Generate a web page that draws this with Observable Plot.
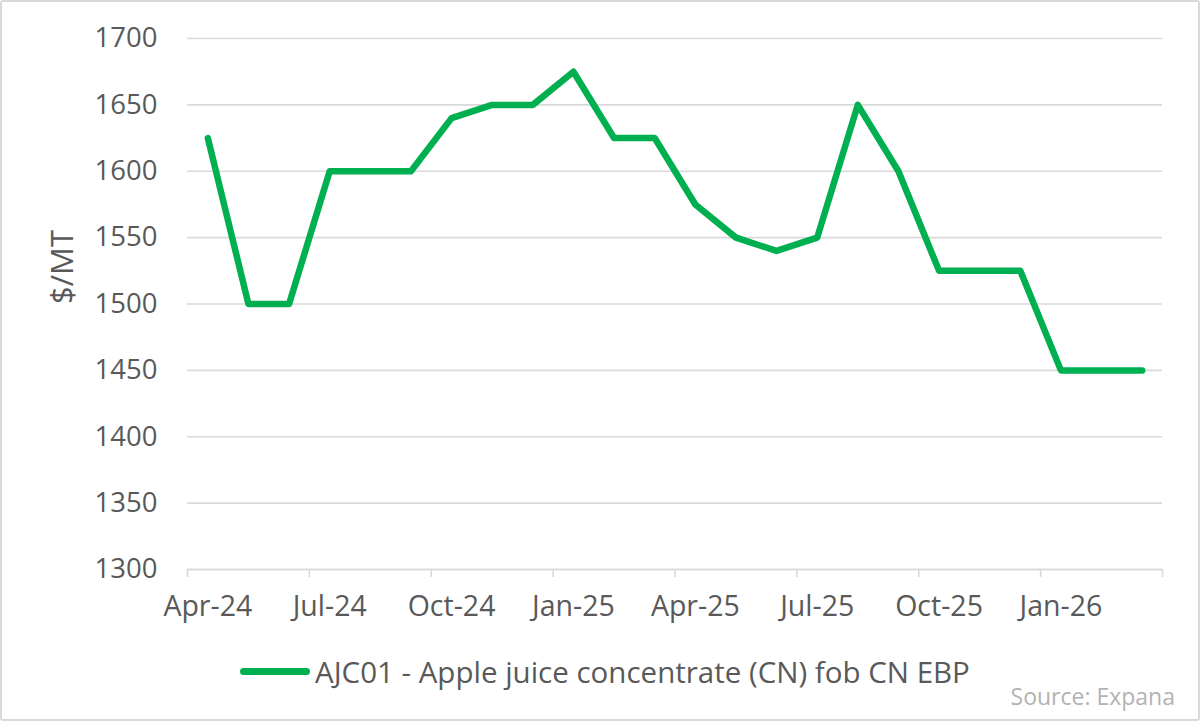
<!DOCTYPE html>
<html>
<head>
<meta charset="utf-8">
<script src="https://cdn.jsdelivr.net/npm/d3@7"></script>
<script src="https://cdn.jsdelivr.net/npm/@observablehq/plot@0.6"></script>
<style>
  html, body { margin: 0; padding: 0; background: #fff; }
  #page { position: relative; width: 1200px; height: 721px; overflow: hidden; font-family: "Open Sans", sans-serif; }
  #chart { position: absolute; left: 0; top: 0; }
  #frame { position: absolute; left: 0; top: 0; width: 1200px; height: 721px; box-sizing: border-box; border: 2px solid #d9d9d9; border-radius: 3px; pointer-events: none; }
  #legend { position: absolute; left: 240px; top: 650px; height: 42px; display: flex; align-items: center; color: #595959; font-size: 29.5px; white-space: nowrap; }
  #legend .sw { width: 70px; height: 7px; border-radius: 3.5px; background: #00b050; margin-right: 5px; }
  #source { position: absolute; right: 25px; top: 680px; color: #b3b3b3; font-size: 23px; }
</style>
</head>
<body>
<div id="page">
  <div id="chart"></div>
  <div id="legend"><div class="sw"></div><span id="legendText"></span></div>
  <div id="source"></div>
  <div id="frame"></div>
</div>
<script>
const months = ["Apr-24","May-24","Jun-24","Jul-24","Aug-24","Sep-24","Oct-24","Nov-24","Dec-24",
  "Jan-25","Feb-25","Mar-25","Apr-25","May-25","Jun-25","Jul-25","Aug-25","Sep-25","Oct-25",
  "Nov-25","Dec-25","Jan-26","Feb-26","Mar-26"];
const prices = [1625,1500,1500,1600,1600,1600,1640,1650,1650,1675,1625,1625,1575,1550,1540,1550,
  1650,1600,1525,1525,1525,1450,1450,1450];
const yTicks = [1300,1350,1400,1450,1500,1550,1600,1650,1700];
const labelEvery = 3;
const seriesName = "AJC01 - Apple juice concentrate (CN) fob CN EBP";
const yLabel = "$/MT";
const sourceText = "Source: Expana";

const data = months.map((m, i) => ({i, m, v: prices[i]}));
const boundaryTicks = d3.range(0, months.length + 1, labelEvery);
const labelTicks = d3.range(0, months.length, labelEvery).map(i => i + 0.5);

const grey = "#595959";
const font = "'Open Sans', sans-serif";
const plot = Plot.plot({
  width: 1200,
  height: 630,
  marginLeft: 187,
  marginRight: 38,
  marginTop: 38,
  marginBottom: 61,
  style: {fontFamily: font, fontSize: "27px", color: grey, background: "transparent"},
  x: {domain: [0, months.length]},
  y: {domain: [1300, 1700]},
  marks: [
    Plot.gridY(yTicks, {stroke: "#d9d9d9", strokeOpacity: 1, strokeWidth: 1.6}),
    Plot.axisY({ticks: yTicks, tickSize: 0, tickPadding: 30, tickFormat: d => String(d), label: null, fontSize: 27.5, fill: grey}),
    Plot.ruleY([1300], {stroke: "#d9d9d9", strokeWidth: 1.6}),
    Plot.axisX({ticks: boundaryTicks, tickSize: 8, tickFormat: () => "", stroke: "#d9d9d9", strokeWidth: 1.6, strokeOpacity: 1, label: null}),
    Plot.axisX({ticks: labelTicks, tickSize: 0, tickPadding: 26, tickFormat: v => months[Math.round(v - 0.5)], label: null, fontSize: 28.5, fill: grey}),
    Plot.text([yLabel], {frameAnchor: "left", text: d => d, rotate: -90, dx: -124, fontSize: 31, fill: grey}),
    Plot.line(data, {x: d => d.i + 0.5, y: "v", stroke: "#00b050", strokeWidth: 6.5, strokeLinejoin: "round", strokeLinecap: "round"})
  ]
});
document.getElementById("chart").appendChild(plot);
document.getElementById("legendText").textContent = seriesName;
document.getElementById("source").textContent = sourceText;
</script>
</body>
</html>
